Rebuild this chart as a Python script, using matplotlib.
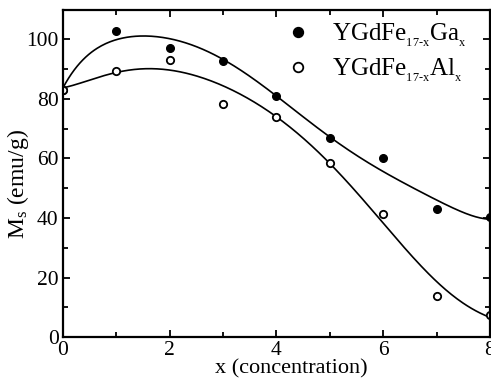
import numpy as np
import matplotlib
matplotlib.use("Agg")
import matplotlib.pyplot as plt
from matplotlib.ticker import MultipleLocator

plt.rcParams['font.family'] = ['Liberation Serif', 'DejaVu Serif']
plt.rcParams['mathtext.fontset'] = 'custom'
plt.rcParams['mathtext.rm'] = 'Liberation Serif'
plt.rcParams['mathtext.it'] = 'Liberation Serif'

# concentration x
x = [0, 1, 2, 3, 4, 5, 6, 7, 8]
# saturation magnetisation (emu/g)
ms_ga = [83.0, 102.8, 97.1, 92.8, 80.9, 66.9, 60.2, 43.2, 40.2]
ms_al = [83.0, 89.4, 93.0, 78.4, 73.9, 58.6, 41.5, 13.8, 7.4]

# fitted curves
x_fit = [0, 0.25, 0.5, 1, 1.5, 2, 2.5, 3, 3.5, 4, 4.5, 5, 5.5, 6, 6.5, 7, 7.5, 8]
fit_ga = [83.5, 90.8, 95.3, 99.6, 101.1, 100.3, 97.8, 93.2, 87.5, 81.0, 74.0,
          67.0, 61.2, 56.0, 50.5, 45.6, 42.3, 39.5]
fit_al = [83.6, 85.0, 86.5, 88.8, 89.8, 89.7, 88.0, 84.7, 79.7, 73.7, 66.5,
          58.5, 49.3, 38.0, 27.9, 18.3, 11.8, 6.5]

label_ga = r'YGdFe$_{_{\mathrm{17\text{-}x}}}$Ga$_{_{\mathrm{x}}}$'
label_al = r'YGdFe$_{_{\mathrm{17\text{-}x}}}$Al$_{_{\mathrm{x}}}$'

fig = plt.figure(figsize=(4.91, 3.84), dpi=100)
ax = fig.add_axes([0.128, 0.122, 0.870, 0.853])

# smooth the read-off curves
xs = np.linspace(0, 8, 300)
ax.plot(xs, np.polyval(np.polyfit(x_fit, fit_ga, 7), xs), color='black', lw=1.2)
ax.plot(xs, np.polyval(np.polyfit(x_fit, fit_al, 7), xs), color='black', lw=1.2)

ax.plot(x, ms_ga, 'o', color='black', ms=5.5, label=label_ga)
ax.plot(x, ms_al, 'o', mfc='white', mec='black', mew=1.3, ms=5.3, label=label_al)

ax.set_xlim(0, 8)
ax.set_ylim(0, 110)
ax.xaxis.set_major_locator(MultipleLocator(2))
ax.xaxis.set_minor_locator(MultipleLocator(1))
ax.yaxis.set_major_locator(MultipleLocator(20))
ax.yaxis.set_minor_locator(MultipleLocator(10))
ax.tick_params(which='both', direction='in', top=True, right=True, width=1.3, labelsize=15.5, pad=3)
ax.tick_params(which='major', length=5)
ax.tick_params(which='minor', length=3.5)
for s in ax.spines.values():
    s.set_linewidth(1.6)

ax.set_xlabel('x (concentration)', fontsize=16)
ax.set_ylabel(r'M$_{\mathrm{s}}$ (emu/g)', fontsize=17)
ax.xaxis.set_label_coords(0.534, -0.068)
ax.yaxis.set_label_coords(-0.075, 0.467)

ax.legend(loc='upper right', frameon=False, fontsize=18, handlelength=0.8, markerscale=1.3,
          handletextpad=0.95, borderaxespad=0.0, labelspacing=0.3, borderpad=0.0,
          bbox_to_anchor=(0.946, 0.962))

fig.savefig('out.png', dpi=100)
